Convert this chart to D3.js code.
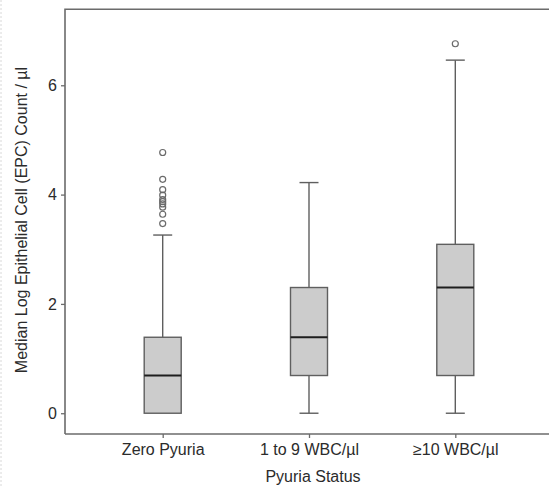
<!DOCTYPE html>
<html>
<head>
<meta charset="utf-8">
<script src="https://cdn.jsdelivr.net/npm/d3@7/dist/d3.min.js"></script>
<style>
  html, body { margin: 0; padding: 0; background: #fff; }
  svg { display: block; }
  text { font-family: "Liberation Sans", Arial, sans-serif; fill: #2b2b2b; }
</style>
</head>
<body>
<svg id="chart" width="549" height="486"></svg>
<script>
// Pyuria groups
const categories = ["Zero Pyuria", "1 to 9 WBC/\u00b5l", "\u226510 WBC/\u00b5l"];
// Box summaries (log EPC count)
const whiskerLow = [0, 0, 0];
const q1 = [0, 0.69, 0.69];
const medians = [0.69, 1.39, 2.30];
const q3 = [1.39, 2.30, 3.09];
const whiskerHigh = [3.26, 4.22, 6.46];
// Outlying observations per group
const outliers = [
  [4.77, 4.28, 4.09, 3.99, 3.91, 3.87, 3.83, 3.77, 3.64, 3.47],
  [],
  [6.76]
];
const yTicks = [0, 2, 4, 6];
const xTitle = "Pyuria Status";
const yTitle = "Median Log Epithelial Cell (EPC) Count / \u00b5l";

const svg = d3.select("#chart");
const frameLeft = 65, frameTop = 9.3, frameBottom = 434, frameRight = 560;
const fontSize = "16px";

const y = d3.scaleLinear().domain([-0.38, 7.39]).range([frameBottom, frameTop]);
const x = d3.scalePoint().domain(categories).range([162.7, 455.3]);
const boxW = 37, capW = 19;
const axisColor = "#6b6b6b";

// faint dashed page edge
svg.append("line")
  .attr("x1", 1).attr("x2", 1).attr("y1", 0).attr("y2", 486)
  .attr("stroke", "#d8d8d8").attr("stroke-dasharray", "2,2");

// plot frame (left, top)
svg.append("path")
  .attr("d", `M${frameLeft},${frameBottom}V${frameTop}H${frameRight}`)
  .attr("fill", "none").attr("stroke", axisColor).attr("stroke-width", 1.6);

// y axis
const yAxis = svg.append("g")
  .attr("transform", `translate(${frameLeft},0)`)
  .call(d3.axisLeft(y).tickValues(yTicks).tickFormat(d3.format("d")).tickSize(4).tickPadding(4));
yAxis.select(".domain").remove();
yAxis.selectAll(".tick line").attr("stroke", axisColor).attr("stroke-width", 1.3);
yAxis.selectAll(".tick text").style("font-size", fontSize).attr("fill", "#2b2b2b");

// x axis
const xAxis = svg.append("g")
  .attr("transform", `translate(0,${frameBottom})`)
  .call(d3.axisBottom(x).tickSize(4).tickPadding(6));
xAxis.select(".domain").remove();
svg.append("line")
  .attr("x1", frameLeft).attr("x2", frameRight)
  .attr("y1", frameBottom).attr("y2", frameBottom)
  .attr("stroke", axisColor).attr("stroke-width", 1.6);
xAxis.selectAll(".tick line").attr("stroke", axisColor).attr("stroke-width", 1.3);
xAxis.selectAll(".tick text").style("font-size", fontSize).attr("fill", "#2b2b2b");

// axis titles
svg.append("text")
  .attr("x", 313).attr("y", 482)
  .attr("text-anchor", "middle").style("font-size", fontSize)
  .text(xTitle);
svg.append("text")
  .attr("transform", "translate(27,220) rotate(-90)")
  .attr("text-anchor", "middle").style("font-size", fontSize)
  .text(yTitle);

// boxes
const groups = svg.append("g").selectAll("g")
  .data(categories.map((c, i) => ({ c, i })))
  .join("g");

groups.each(function (d) {
  const g = d3.select(this);
  const cx = x(d.c), i = d.i;
  const stroke = "#5f5f5f";
  // whiskers
  g.append("line").attr("x1", cx).attr("x2", cx)
    .attr("y1", y(q3[i])).attr("y2", y(whiskerHigh[i]))
    .attr("stroke", stroke).attr("stroke-width", 1.4);
  if (q1[i] > whiskerLow[i]) {
    g.append("line").attr("x1", cx).attr("x2", cx)
      .attr("y1", y(q1[i])).attr("y2", y(whiskerLow[i]))
      .attr("stroke", stroke).attr("stroke-width", 1.4);
    g.append("line").attr("x1", cx - capW / 2).attr("x2", cx + capW / 2)
      .attr("y1", y(whiskerLow[i])).attr("y2", y(whiskerLow[i]))
      .attr("stroke", stroke).attr("stroke-width", 1.4);
  }
  g.append("line").attr("x1", cx - capW / 2).attr("x2", cx + capW / 2)
    .attr("y1", y(whiskerHigh[i])).attr("y2", y(whiskerHigh[i]))
    .attr("stroke", stroke).attr("stroke-width", 1.4);
  // box
  g.append("rect")
    .attr("x", cx - boxW / 2).attr("width", boxW)
    .attr("y", y(q3[i])).attr("height", y(q1[i]) - y(q3[i]))
    .attr("fill", "#cccccc").attr("stroke", stroke).attr("stroke-width", 1.4);
  // median
  g.append("line").attr("x1", cx - boxW / 2).attr("x2", cx + boxW / 2)
    .attr("y1", y(medians[i])).attr("y2", y(medians[i]))
    .attr("stroke", "#1e1e1e").attr("stroke-width", 2.2);
  // outliers
  g.selectAll("circle").data(outliers[i]).join("circle")
    .attr("cx", cx).attr("cy", v => y(v)).attr("r", 3)
    .attr("fill", "none").attr("stroke", "#6a6a6a").attr("stroke-width", 1.2);
});
</script>
</body>
</html>
